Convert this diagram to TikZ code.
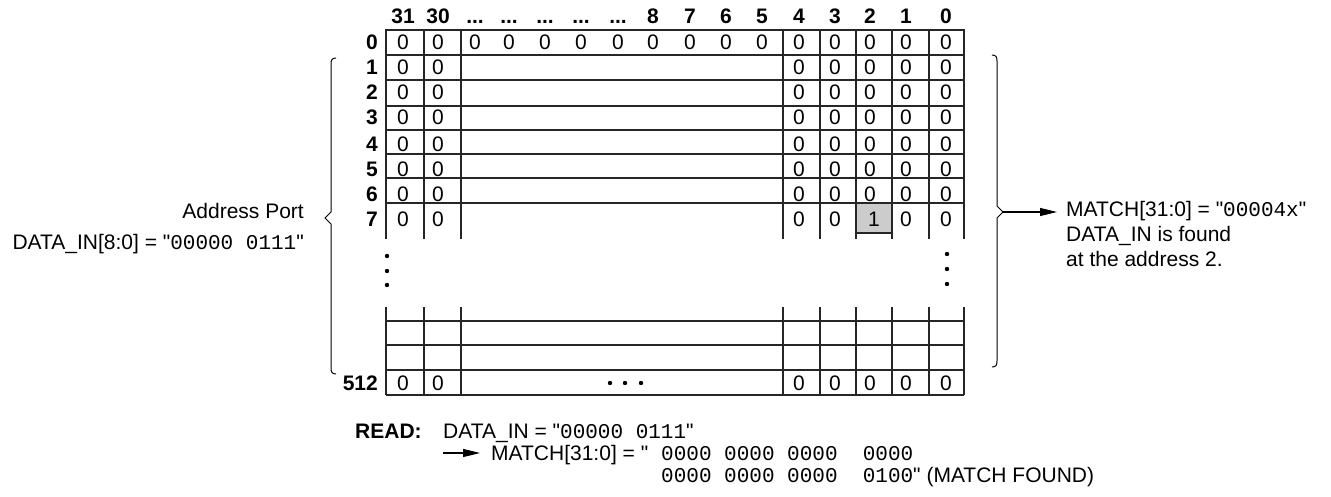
\documentclass[tikz,border=0pt]{standalone}
\usepackage{fontspec}
\setmainfont{Liberation Sans}[Ligatures=TeXOff]
\setmonofont{Liberation Mono}
\usetikzlibrary{arrows.meta}
\newcommand{\fsz}{\fontsize{21}{25}\selectfont}
\begin{document}
\begin{tikzpicture}[x=1pt,y=-1pt,
  every node/.style={inner sep=0pt, font=\fsz},
  val/.style={anchor=base},
  hdr/.style={anchor=base, font=\fsz\bfseries},
  rowlbl/.style={anchor=base east, font=\fsz\bfseries},
  txt/.style={anchor=base west},
  txtr/.style={anchor=base east},
  gridline/.style={line width=1.4pt, black!85},
  bracepath/.style={line width=1pt, black},
  conn/.style={line width=1.2pt, -{Triangle[length=17pt,width=8pt]}},
  dotmark/.style={fill=black},
  mono/.style={font=\fsz\ttfamily}
]
\useasboundingbox (0,0) rectangle (1331,497);

% ---------- grid: upper part ----------
\fill[black!20] (856,203) rectangle (892,233);
\draw[gridline] (386,239) -- (386,30) -- (964,30) -- (964,239);
\foreach \x in {424,461,783,820,856,892,929} \draw[gridline] (\x,30) -- (\x,239);
\foreach \y in {55,80,106,130,154,178,203} \draw[gridline] (386,\y) -- (964,\y);
\draw[gridline] (856,233) -- (892,233);

% ---------- grid: lower part ----------
\foreach \x in {386,424,461,783,820,856,892,929,964} \draw[gridline] (\x,307) -- (\x,395);
\foreach \y in {321,345,370,395} \draw[gridline] (386,\y) -- (964,\y);

% ---------- header ----------
\node[hdr] (h31) at (403,24) {31};
\node[hdr] (h30) at (438,24) {30};
\node[hdr] (hd1) at (475,24) {...};
\node[hdr] (hd2) at (509,24) {...};
\node[hdr] (hd3) at (545,24) {...};
\node[hdr] (hd4) at (581,24) {...};
\node[hdr] (hd5) at (618,24) {...};
\node[hdr] (h8) at (653,24) {8};
\node[hdr] (h7) at (690,24) {7};
\node[hdr] (h6) at (726,24) {6};
\node[hdr] (h5) at (762,24) {5};
\node[hdr] (h4) at (799,24) {4};
\node[hdr] (h3) at (835,24) {3};
\node[hdr] (h2) at (870,24) {2};
\node[hdr] (h1) at (906,24) {1};
\node[hdr] (h0) at (946,24) {0};

% ---------- row 0 ----------
\node[rowlbl] (l0) at (378,50) {0};
\foreach \x [count=\i] in {403,438,475,509,545,581,618,653,690,726,762,799,835,870,906,946}
  \node[val] (r0-\i) at (\x,50) {0};

% ---------- rows 1..6 ----------
\foreach \r/\y in {1/75,2/100,3/125,4/152,5/177,6/202}{
  \node[rowlbl] (l\r) at (378,\y) {\r};
  \foreach \x [count=\i] in {403,438,799,835,870,906,946}
    \node[val] (r\r-\i) at (\x,\y) {0};
}

% ---------- row 7 ----------
\node[rowlbl] (l7) at (378,227) {7};
\node[val] (r7-1) at (403,227) {0};
\node[val] (r7-2) at (438,227) {0};
\node[val] (r7-3) at (799,227) {0};
\node[val] (r7-4) at (835,227) {0};
\node[val] (r7-5) at (874,227) {1};
\node[val] (r7-6) at (906,227) {0};
\node[val] (r7-7) at (946,227) {0};

% ---------- vertical ellipses ----------
\foreach \y in {256,271,285} \fill[dotmark] (387,\y) circle[radius=2.2pt];
\foreach \y in {254,269,284} \fill[dotmark] (947,\y) circle[radius=2.2pt];

% ---------- row 512 ----------
\node[rowlbl] (l512) at (378,390) {512};
\foreach \x [count=\i] in {403,438,799,835,870,906,946}
  \node[val] (r512-\i) at (\x,390) {0};
\foreach \x in {610,625,641} \fill[dotmark] (\x,383) circle[radius=2.2pt];

% ---------- braces ----------
\draw[bracepath] (336,58) .. controls (332,58) and (331,60) .. (331,64) -- (331,212)
  -- (325,218) -- (331,224) -- (331,368) .. controls (331,372) and (332,374) .. (336,374);
\draw[bracepath] (992,55) .. controls (996,55) and (997,57) .. (997,61) -- (997,206)
  -- (1003,212) -- (997,218) -- (997,361) .. controls (997,365) and (996,367) .. (992,367);
\coordinate (rtip) at (1003,212);

% ---------- left labels ----------
\node[txtr] (ap) at (304,219) {Address Port};
\node[txtr] (din) at (304,250) {DATA\_IN[8:0] = "\texttt{00000 0111}"};

% ---------- right labels ----------
\node[txt] (m1) at (1066,217) {MATCH[31:0] = "\texttt{00004x}"};
\node[txt] (m2) at (1066,242) {DATA\_IN is found};
\node[txt] (m3) at (1066,267) {at the address 2.};
\draw[conn, shorten >=9pt] (rtip) -- (rtip -| m1.west);

% ---------- bottom ----------
\node[txt, font=\fsz\bfseries] (read) at (355,438) {READ:};
\node[txt] (bdin) at (443,438) {DATA\_IN = "\texttt{00000 0111}"};
\coordinate (ba) at (443,453);
\node[txt] (bm) at (491,460) {MATCH[31:0] = "};
\node[txt] (bv1) at (661,460) {\texttt{0000 0000 0000\ \ 0000}};
\node[txt] (bv2) at (661,482) {\texttt{0000 0000 0000\ \ 0100}" (MATCH FOUND)};
\draw[conn, shorten >=11pt] (ba) -- (ba -| bm.west);
\end{tikzpicture}
\end{document}
